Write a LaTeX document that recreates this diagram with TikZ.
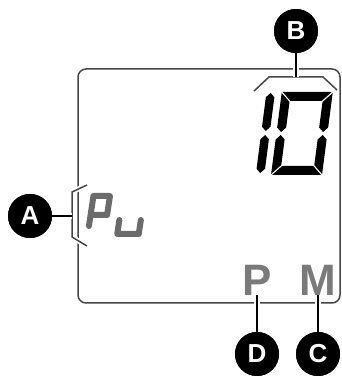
\documentclass[tikz,border=0pt]{standalone}
\usepackage{fontspec}
\setsansfont{Liberation Sans}
\tikzset{
  framecol/.style={draw=black!72, line width=1.5pt},
  bracket/.style={framecol, preaction={draw=white, line width=5pt}},
  conn/.style={draw=black, line width=2.6pt, preaction={draw=white, line width=6.5pt}},
  callout/.style={circle, fill=black, minimum size=44pt, inner sep=0pt, text=white,
    font=\sffamily\bfseries\fontsize{26}{26}\selectfont},
  lcdlabel/.style={anchor=base, inner sep=0pt, text=black!52,
    font=\sffamily\bfseries\fontsize{44}{44}\selectfont},
  gap/.style={draw=white, line width=1.1pt},
  smallseg/.style={draw=black!58, line width=6pt, line cap=round, line join=round}
}
\begin{document}
\begin{tikzpicture}[x=1pt,y=1pt]
\useasboundingbox (0,0) rectangle (342,376);
% display frame
\draw[framecol, rounded corners=8pt] (78,200) -- (78,307) -- (340,307) -- (340,73) -- (78,73) -- cycle;
% brackets
\draw[bracket] (254,285) -- (269,299) -- (323,299) -- (337,286);
\draw[bracket] (87,191) -- (72,184) -- (72,139) -- (87,130);
% big digits "10"
\begin{scope}[shift={(0,201)}, xslant=0.13]
  \fill[black] (260,44) -- (264.25,48.25) -- (264.25,77.75) -- (260,82) -- (255.75,77.75) -- (255.75,48.25) -- cycle;
  \fill[black] (260,2) -- (264.25,6.25) -- (264.25,35.75) -- (260,40) -- (255.75,35.75) -- (255.75,6.25) -- cycle;
  \fill[black] (271,83) -- (322,83) -- (313,74) -- (280,74) -- cycle;
  \fill[black] (271,0) -- (322,0) -- (313,9) -- (280,9) -- cycle;
  \fill[black] (271,83) -- (280,74) -- (280,47.5) -- (275.5,43) -- (271,47.5) -- cycle;
  \fill[black] (271,0) -- (280,9) -- (280,35.5) -- (275.5,40) -- (271,35.5) -- cycle;
  \fill[black] (322,83) -- (313,74) -- (313,47.5) -- (317.5,43) -- (322,47.5) -- cycle;
  \fill[black] (322,0) -- (313,9) -- (313,35.5) -- (317.5,40) -- (322,35.5) -- cycle;
  \draw[gap] (270,84) -- (281,73);
  \draw[gap] (270,-1) -- (281,10);
  \draw[gap] (323,84) -- (312,73);
  \draw[gap] (323,-1) -- (312,10);
\end{scope}
% small segment text "Pu"
\begin{scope}[shift={(0,137)}, xslant=0.15]
  \draw[smallseg] (87,13) -- (87,43) -- (103.5,43) -- (103.5,24) -- (87,24);
  \draw[smallseg] (116.5,19) -- (116.5,5) -- (138,5) -- (138,19);
\end{scope}
% bottom indicators
\node[lcdlabel] (P) at (257,81) {P};
\node[lcdlabel] (M) at (318,81) {M};
% callouts
\coordinate (aend) at (72,160);
\coordinate (bend) at (296,299);
\coordinate (dend) at (257,81);
\coordinate (cend) at (318,81);
\node[callout] (A) at (30,160) {};
\node[callout] (B) at (296,345) {};
\node[callout] (D) at (257,22) {};
\node[callout] (C) at (318,22) {};
\draw[conn] (A.east) -- (aend);
\draw[conn] (B.south) -- (bend);
\draw[conn] (D.north) -- (dend);
\draw[conn] (C.north) -- (cend);
\node[callout] at (A) {A};
\node[callout] at (B) {B};
\node[callout] at (D) {D};
\node[callout] at (C) {C};
\end{tikzpicture}
\end{document}
